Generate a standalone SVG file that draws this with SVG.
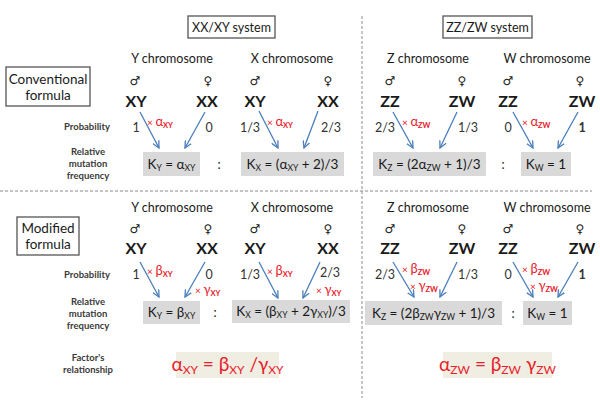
<svg xmlns="http://www.w3.org/2000/svg" width="600" height="406" viewBox="0 0 600 406">
<style>
text{font-family:Lato,"Liberation Sans",sans-serif;fill:#1a1a1a}
.h{font-size:12.5px;text-anchor:middle}
.s{font-family:"DejaVu Sans",sans-serif;font-size:12px;text-anchor:middle}
.g{font-size:16px;font-weight:bold;text-anchor:middle}
.lab{font-size:9.5px;font-weight:bold;fill:#3a3a3a;text-anchor:middle}
.n{font-size:12.5px;text-anchor:middle;fill:#333}
.r{fill:#e8202a;font-size:13px}
.x{font-size:10px}
.sb{font-size:7.5px;font-weight:bold}
.k{font-size:13.5px;text-anchor:middle}
.ks{font-size:8.5px}
.f{font-size:19px;text-anchor:middle;fill:#e8202a}
.fs{font-size:12px}
.bx{fill:#d9d9d9}
.fb{fill:#f0eee2}
.frame{fill:#fff;stroke:#555;stroke-width:1.3}
.dash{stroke:#8a8a8a;stroke-width:1;stroke-dasharray:3 2;fill:none}
.ar{stroke:#4a7ebb;stroke-width:1.3;fill:none;marker-end:url(#ah)}
</style>
<defs>
<marker id="ah" viewBox="0 0 8 8" refX="7" refY="4" markerWidth="8" markerHeight="8" markerUnits="userSpaceOnUse" orient="auto">
<path d="M0,0.5 L7,4 L0,7.5" fill="none" stroke="#4a7ebb" stroke-width="1.3"/>
</marker>
</defs>
<rect width="600" height="406" fill="#fff"/>

<g id="dividers">
<line class="dash" x1="0" y1="191" x2="592" y2="191"/>
<line class="dash" x1="362" y1="16" x2="362" y2="398"/>
</g>

<g id="system-xy">
<rect class="frame" x="188" y="16" width="87" height="22"/>
<text class="h" x="231.5" y="31.5">XX/XY system</text>
</g>
<g id="system-zw">
<rect class="frame" x="443" y="16" width="89" height="22"/>
<text class="h" x="487.5" y="31.5">ZZ/ZW system</text>
</g>

<g id="conventional">
<rect class="frame" x="6" y="67" width="84" height="39"/>
<text class="h" x="48" y="84" style="font-size:13.5px">Conventional</text>
<text class="h" x="48" y="100" style="font-size:13.5px">formula</text>
</g>
<g id="modified">
<rect class="frame" x="17" y="217" width="62" height="38"/>
<text class="h" x="48" y="233" style="font-size:13.5px">Modified</text>
<text class="h" x="48" y="249" style="font-size:13.5px">formula</text>
</g>

<g id="row-labels">
<text class="lab" x="87" y="130">Probability</text>
<text class="lab" x="88" y="155">Relative</text>
<text class="lab" x="88" y="167">mutation</text>
<text class="lab" x="88" y="179">frequency</text>
<text class="lab" x="87" y="278">Probability</text>
<text class="lab" x="88" y="305">Relative</text>
<text class="lab" x="88" y="317">mutation</text>
<text class="lab" x="88" y="329">frequency</text>
<text class="lab" x="88" y="361">Factor's</text>
<text class="lab" x="88" y="373">relationship</text>
</g>

<g id="connectors">
<line class="ar" x1="140" y1="112" x2="159" y2="148"/>
<line class="ar" x1="205" y1="112" x2="185" y2="148"/>
<line class="ar" x1="259" y1="111" x2="278" y2="148"/>
<line class="ar" x1="318" y1="111" x2="304" y2="148"/>
<line class="ar" x1="393" y1="112" x2="413" y2="148"/>
<line class="ar" x1="457" y1="112" x2="440" y2="148"/>
<line class="ar" x1="513" y1="112" x2="533" y2="148"/>
<line class="ar" x1="578" y1="112" x2="558" y2="148"/>
<line class="ar" x1="140" y1="262" x2="159" y2="297"/>
<line class="ar" x1="205" y1="262" x2="185" y2="297"/>
<line class="ar" x1="259" y1="262" x2="278" y2="298"/>
<line class="ar" x1="320" y1="262" x2="303" y2="298"/>
<line class="ar" x1="393" y1="262" x2="414" y2="297"/>
<line class="ar" x1="457" y1="262" x2="440" y2="297"/>
<line class="ar" x1="513" y1="262" x2="533" y2="297"/>
<line class="ar" x1="578" y1="262" x2="558" y2="297"/>
</g>

<!-- TOP: XX/XY -->
<g id="top-y">
<text class="h" x="172" y="63">Y chromosome</text>
<text class="s" x="135" y="85">♂</text>
<text class="s" x="208" y="85">♀</text>
<text class="g" x="136" y="107">XY</text>
<text class="g" x="207" y="107">XX</text>
<text class="n" x="136" y="132">1</text>
<text class="n" x="209" y="132">0</text>
<text x="147" y="126" class="r"><tspan class="x">× </tspan>α<tspan class="sb" dy="2">XY</tspan></text>
<rect class="bx" x="143" y="152" width="57" height="24"/>
<text class="k" x="171.5" y="169">K<tspan class="ks" dy="2">Y</tspan><tspan dy="-2"> = α</tspan><tspan class="ks" dy="2">XY</tspan></text>
<text class="h" x="219" y="169">:</text>
</g>
<g id="top-x">
<text class="h" x="292" y="63">X chromosome</text>
<text class="s" x="255" y="85">♂</text>
<text class="s" x="328" y="85">♀</text>
<text class="g" x="255" y="107">XY</text>
<text class="g" x="328" y="107">XX</text>
<text class="n" x="250" y="132">1/3</text>
<text class="n" x="331" y="132">2/3</text>
<text x="267" y="126" class="r"><tspan class="x">× </tspan>α<tspan class="sb" dy="2">XY</tspan></text>
<rect class="bx" x="241" y="152" width="103" height="24"/>
<text class="k" x="292.5" y="169">K<tspan class="ks" dy="2">X</tspan><tspan dy="-2"> = (α</tspan><tspan class="ks" dy="2">XY</tspan><tspan dy="-2"> + 2)/3</tspan></text>
</g>

<!-- TOP: ZZ/ZW -->
<g id="top-z">
<text class="h" x="428" y="63">Z chromosome</text>
<text class="s" x="390" y="85">♂</text>
<text class="s" x="462" y="85">♀</text>
<text class="g" x="390" y="107">ZZ</text>
<text class="g" x="462" y="107">ZW</text>
<text class="n" x="385" y="132">2/3</text>
<text class="n" x="468" y="132">1/3</text>
<text x="402" y="126" class="r"><tspan class="x">× </tspan>α<tspan class="sb" dy="2">ZW</tspan></text>
<rect class="bx" x="373" y="152" width="113" height="24"/>
<text class="k" x="429.5" y="169">K<tspan class="ks" dy="2">Z</tspan><tspan dy="-2"> = (2α</tspan><tspan class="ks" dy="2">ZW</tspan><tspan dy="-2"> + 1)/3</tspan></text>
<text class="h" x="503" y="169">:</text>
</g>
<g id="top-w">
<text class="h" x="547" y="63">W chromosome</text>
<text class="s" x="508" y="85">♂</text>
<text class="s" x="580" y="85">♀</text>
<text class="g" x="508" y="107">ZZ</text>
<text class="g" x="582" y="107">ZW</text>
<text class="n" x="508" y="132">0</text>
<text class="n" x="582" y="132" style="font-weight:bold">1</text>
<text x="522" y="126" class="r"><tspan class="x">× </tspan>α<tspan class="sb" dy="2">ZW</tspan></text>
<rect class="bx" x="521" y="152" width="50" height="24"/>
<text class="k" x="546" y="169">K<tspan class="ks" dy="2">W</tspan><tspan dy="-2"> = 1</tspan></text>
</g>

<!-- BOTTOM: XX/XY -->
<g id="bot-y">
<text class="h" x="172" y="212">Y chromosome</text>
<text class="s" x="135" y="233">♂</text>
<text class="s" x="208" y="233">♀</text>
<text class="g" x="136" y="254">XY</text>
<text class="g" x="207" y="254">XX</text>
<text class="n" x="136" y="279">1</text>
<text class="n" x="209" y="279">0</text>
<text x="147" y="275" class="r"><tspan class="x">× </tspan>β<tspan class="sb" dy="2">XY</tspan></text>
<text x="195" y="294" class="r"><tspan class="x">× </tspan>γ<tspan class="sb" dy="2">XY</tspan></text>
<rect class="bx" x="143" y="301" width="57" height="23"/>
<text class="k" x="171.5" y="317">K<tspan class="ks" dy="2">Y</tspan><tspan dy="-2"> = β</tspan><tspan class="ks" dy="2">XY</tspan></text>
<text class="h" x="215" y="317">:</text>
</g>
<g id="bot-x">
<text class="h" x="292" y="212">X chromosome</text>
<text class="s" x="255" y="233">♂</text>
<text class="s" x="328" y="233">♀</text>
<text class="g" x="255" y="254">XY</text>
<text class="g" x="328" y="254">XX</text>
<text class="n" x="250" y="279">1/3</text>
<text class="n" x="330" y="277">2/3</text>
<text x="267" y="275" class="r"><tspan class="x">× </tspan>β<tspan class="sb" dy="2">XY</tspan></text>
<text x="316" y="294" class="r"><tspan class="x">× </tspan>γ<tspan class="sb" dy="2">XY</tspan></text>
<rect class="bx" x="232" y="300" width="118" height="23"/>
<text class="k" x="291" y="316">K<tspan class="ks" dy="2">X</tspan><tspan dy="-2"> = (β</tspan><tspan class="ks" dy="2">XY</tspan><tspan dy="-2"> + 2γ</tspan><tspan class="ks" dy="2">XY</tspan><tspan dy="-2">)/3</tspan></text>
</g>

<!-- BOTTOM: ZZ/ZW -->
<g id="bot-z">
<text class="h" x="428" y="212">Z chromosome</text>
<text class="s" x="390" y="233">♂</text>
<text class="s" x="462" y="233">♀</text>
<text class="g" x="390" y="254">ZZ</text>
<text class="g" x="462" y="254">ZW</text>
<text class="n" x="385" y="279">2/3</text>
<text class="n" x="468" y="279">1/3</text>
<text x="402" y="273" class="r"><tspan class="x">× </tspan>β<tspan class="sb" dy="2">ZW</tspan></text>
<text x="410" y="290" class="r"><tspan class="x">× </tspan>γ<tspan class="sb" dy="2">ZW</tspan></text>
<rect class="bx" x="365" y="301" width="137" height="24"/>
<text class="k" x="433.5" y="318">K<tspan class="ks" dy="2">Z</tspan><tspan dy="-2"> = (2β</tspan><tspan class="ks" dy="2">ZW</tspan><tspan dy="-2">γ</tspan><tspan class="ks" dy="2">ZW</tspan><tspan dy="-2"> + 1)/3</tspan></text>
<text class="h" x="513" y="318">:</text>
</g>
<g id="bot-w">
<text class="h" x="547" y="212">W chromosome</text>
<text class="s" x="508" y="233">♂</text>
<text class="s" x="580" y="233">♀</text>
<text class="g" x="508" y="254">ZZ</text>
<text class="g" x="582" y="254">ZW</text>
<text class="n" x="508" y="279">0</text>
<text class="n" x="582" y="279" style="font-weight:bold">1</text>
<text x="522" y="273" class="r"><tspan class="x">× </tspan>β<tspan class="sb" dy="2">ZW</tspan></text>
<text x="530" y="290" class="r"><tspan class="x">× </tspan>γ<tspan class="sb" dy="2">ZW</tspan></text>
<rect class="bx" x="523" y="301" width="49" height="24"/>
<text class="k" x="547.5" y="318">K<tspan class="ks" dy="2">W</tspan><tspan dy="-2"> = 1</tspan></text>
</g>

<g id="relation-xy">
<rect class="fb" x="176" y="352" width="103" height="26"/>
<text class="f" x="227.5" y="371">α<tspan class="fs" dy="3">XY</tspan><tspan dy="-3"> = β</tspan><tspan class="fs" dy="3">XY</tspan><tspan dy="-3"> /γ</tspan><tspan class="fs" dy="3">XY</tspan></text>
</g>
<g id="relation-zw">
<rect class="fb" x="443" y="352" width="109" height="26"/>
<text class="f" x="497.5" y="371">α<tspan class="fs" dy="3">ZW</tspan><tspan dy="-3"> = β</tspan><tspan class="fs" dy="3">ZW</tspan><tspan dy="-3"> γ</tspan><tspan class="fs" dy="3">ZW</tspan></text>
</g>
</svg>
